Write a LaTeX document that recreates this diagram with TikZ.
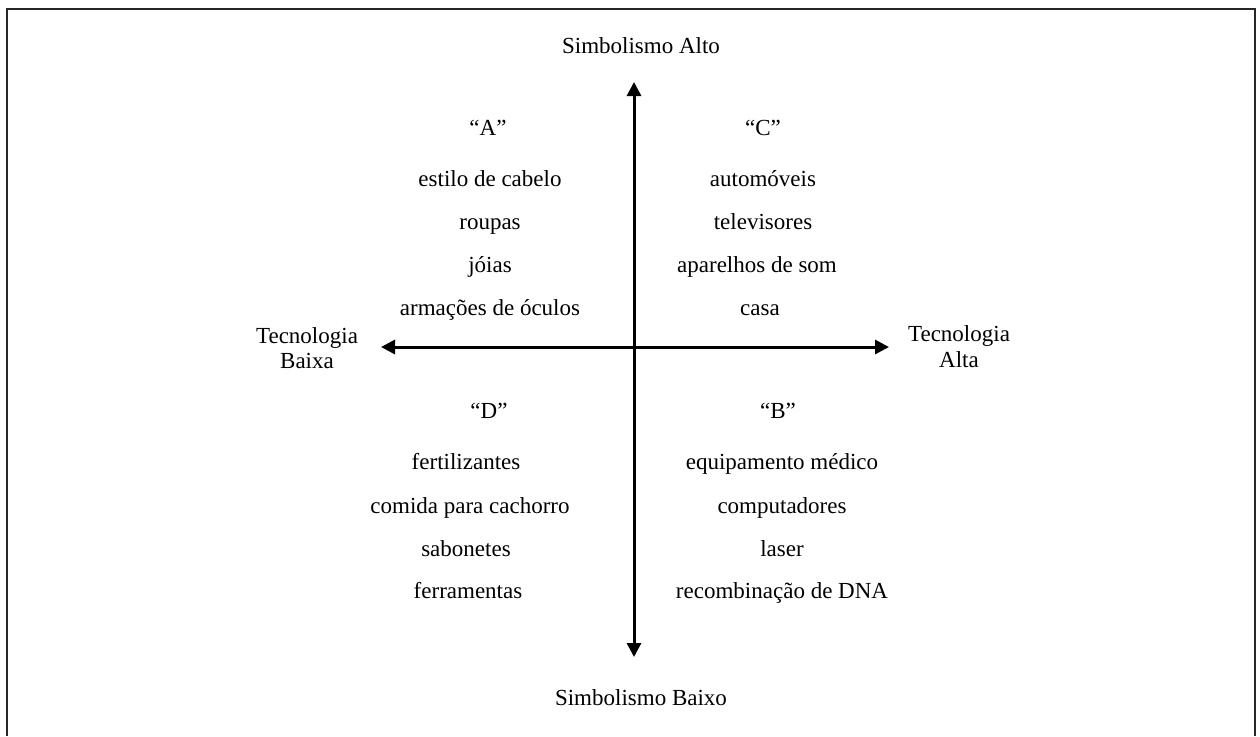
\documentclass[tikz,border=0pt]{standalone}
\usepackage{fontspec}
\setmainfont{Liberation Serif}
\usetikzlibrary{arrows.meta}
\begin{document}
\begin{tikzpicture}[x=1pt,y=-1pt,
  lbl/.style={inner sep=0pt,anchor=base,font=\fontsize{23}{26}\selectfont},
  axis/.style={line width=3pt,{Triangle[length=14pt,width=14pt]}-{Triangle[length=14pt,width=14pt]}},
  frame/.style={line width=2pt,black!85}]
\useasboundingbox (0,0) rectangle (1260,736);
\draw[frame] (7,736) -- (7,9) -- (1255,9) -- (1255,736);
% axes
\coordinate (top) at (634,82);
\coordinate (bot) at (634,657);
\coordinate (left) at (381,347);
\coordinate (right) at (889,347);
\draw[axis] (bot) -- (top);
\draw[axis] (left) -- (right);
% axis labels
\node[lbl] (salto) at (641,53) {Simbolismo Alto};
\node[lbl] (sbaixo) at (641,705) {Simbolismo Baixo};
\node[lbl] (tb1) at (307,343) {Tecnologia};
\node[lbl] (tb2) at (307,368) {Baixa};
\node[lbl] (ta1) at (959,341) {Tecnologia};
\node[lbl] (ta2) at (959,367) {Alta};
% quadrant A
\node[lbl] (qa) at (488,135) {“A”};
\node[lbl] (a1) at (490,186) {estilo de cabelo};
\node[lbl] (a2) at (490,229) {roupas};
\node[lbl] (a3) at (490,272) {jóias};
\node[lbl] (a4) at (490,315) {armações de óculos};
% quadrant C
\node[lbl] (qc) at (763,135) {“C”};
\node[lbl] (c1) at (763,186) {automóveis};
\node[lbl] (c2) at (763,229) {televisores};
\node[lbl] (c3) at (757,272) {aparelhos de som};
\node[lbl] (c4) at (760,315) {casa};
% quadrant D
\node[lbl] (qd) at (489,418) {“D”};
\node[lbl] (d1) at (466,469) {fertilizantes};
\node[lbl] (d2) at (470,513) {comida para cachorro};
\node[lbl] (d3) at (466,556) {sabonetes};
\node[lbl] (d4) at (468,598) {ferramentas};
% quadrant B
\node[lbl] (qb) at (778,418) {“B”};
\node[lbl] (b1) at (782,469) {equipamento médico};
\node[lbl] (b2) at (782,513) {computadores};
\node[lbl] (b3) at (782,556) {laser};
\node[lbl] (b4) at (782,598) {recombinação de DNA};
\end{tikzpicture}
\end{document}
